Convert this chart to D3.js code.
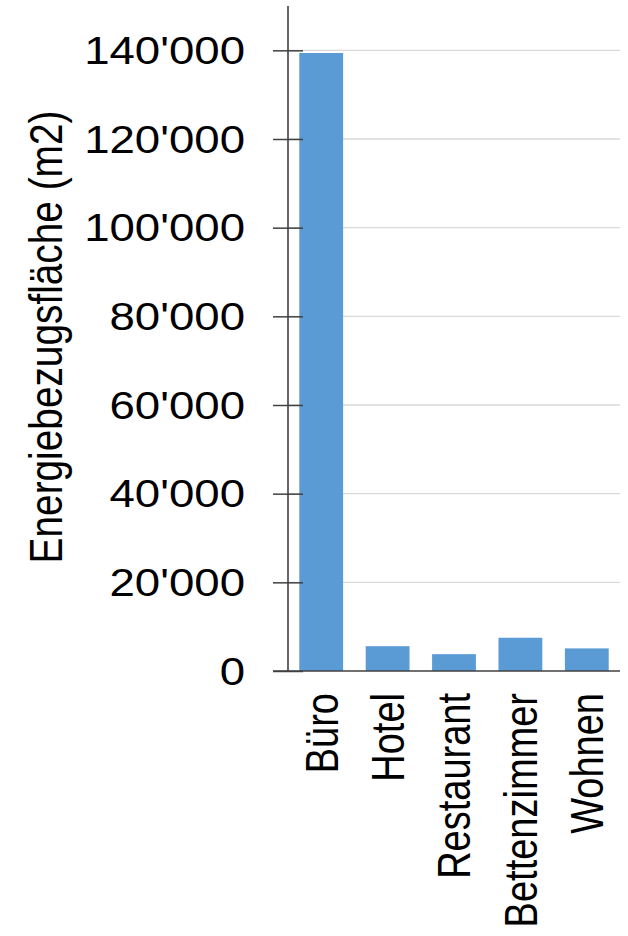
<!DOCTYPE html>
<html>
<head>
<meta charset="utf-8">
<script src="https://cdn.jsdelivr.net/npm/d3@7/dist/d3.min.js"></script>
<style>
  html, body { margin: 0; padding: 0; background: #ffffff; }
  svg { display: block; }
  text { font-family: "Liberation Sans", Arial, sans-serif; fill: #000000; }
</style>
</head>
<body>
<svg id="chart" width="628" height="936"></svg>
<script>
// Energy reference area per building use
const categories = ["Büro", "Hotel", "Restaurant", "Bettenzimmer", "Wohnen"];
const areaValues = [139400, 5600, 3800, 7500, 5100];
const tickValues = [0, 20000, 40000, 60000, 80000, 100000, 120000, 140000];
const yTitle = "Energiebezugsfläche (m2)";

const W = 628, H = 936;
const plot = { left: 288, right: 620, top: 6, bottom: 671 };
const fontSize = 38;
const titleSize = 38.8;
const stretchX = 1.2;   // glyphs are drawn wider than tall

const svg = d3.select("#chart");

const x = d3.scaleBand()
  .domain(categories)
  .range([plot.left, plot.right])
  .paddingInner(0.34)
  .paddingOuter(0.17);

const y = d3.scaleLinear()
  .domain([0, 150000])
  .range([plot.bottom, plot.top]);

const fmt = d3.formatLocale({ decimal: ".", thousands: "'", grouping: [3], currency: ["", ""] }).format(",");

// gridlines
svg.append("g")
  .selectAll("line")
  .data(tickValues.filter(d => d > 0))
  .join("line")
  .attr("x1", plot.left)
  .attr("x2", plot.right)
  .attr("y1", d => y(d))
  .attr("y2", d => y(d))
  .attr("stroke", "#d9d9d9")
  .attr("stroke-width", 1.3);

// bars
svg.append("g")
  .selectAll("rect")
  .data(categories.map((c, i) => ({ c, v: areaValues[i] })))
  .join("rect")
  .attr("x", d => x(d.c))
  .attr("width", x.bandwidth())
  .attr("y", d => y(d.v))
  .attr("height", d => y(0) - y(d.v))
  .attr("fill", "#5b9bd5");

// y axis with ticks crossing the axis line
const yAxis = svg.append("g")
  .attr("transform", `translate(${plot.left},0)`)
  .call(d3.axisLeft(y).tickValues(tickValues).tickSize(15).tickSizeOuter(0).tickFormat(fmt));

yAxis.select(".domain").remove();
yAxis.selectAll(".tick line")
  .attr("x1", 15)
  .attr("x2", -15)
  .attr("stroke", "#404040")
  .attr("stroke-width", 1.5);
yAxis.selectAll(".tick text").remove();

// vertical axis line
svg.append("line")
  .attr("x1", plot.left).attr("x2", plot.left)
  .attr("y1", y(150000)).attr("y2", y(0))
  .attr("stroke", "#404040").attr("stroke-width", 1.6);

// baseline
svg.append("line")
  .attr("x1", plot.left - 15).attr("x2", plot.right)
  .attr("y1", y(0)).attr("y2", y(0))
  .attr("stroke", "#404040").attr("stroke-width", 1.6);

// tick labels
svg.append("g")
  .selectAll("text")
  .data(tickValues)
  .join("text")
  .attr("transform", d => `translate(245,${y(d) + fontSize * 0.358}) scale(${stretchX},1)`)
  .attr("text-anchor", "end")
  .attr("font-size", fontSize)
  .text(d => fmt(d));

// category labels, rotated
svg.append("g")
  .selectAll("text")
  .data(categories)
  .join("text")
  .attr("transform", d => `translate(${x(d) + x.bandwidth() / 2 + fontSize * stretchX * 0.358},${plot.bottom + 22}) rotate(-90) scale(1,${stretchX})`)
  .attr("text-anchor", "end")
  .attr("font-size", fontSize)
  .text(d => d);

// y axis title
svg.append("text")
  .attr("transform", `translate(62,337) rotate(-90) scale(1,${stretchX})`)
  .attr("text-anchor", "middle")
  .attr("font-size", titleSize)
  .text(yTitle);
</script>
</body>
</html>
